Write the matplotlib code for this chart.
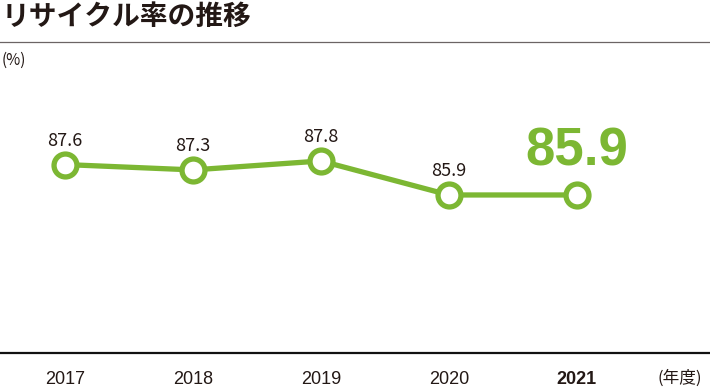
import matplotlib
matplotlib.use("Agg")
import matplotlib.pyplot as plt
from matplotlib.lines import Line2D

plt.rcParams['font.family'] = ['Noto Sans CJK JP', 'DejaVu Sans']

years = ["2017", "2018", "2019", "2020", "2021"]
rates = [87.6, 87.3, 87.8, 85.9, 85.9]

GREEN = "#7cb733"

fig = plt.figure(figsize=(7.1, 3.88), dpi=100)
# axes: x from 0 to 710 px, y from 353 px (bottom) to 45 px (top)
ax = fig.add_axes([0.0, (388 - 353) / 388, 1.0, (353 - 45) / 388])
x = list(range(len(years)))
ax.plot(x, rates, color=GREEN, lw=3.8, marker="o", ms=16.5,
        mfc="white", mec=GREEN, mew=3.8, zorder=3)
ax.set_xlim(-0.508, 5.04)
ax.set_ylim(77.07, 94.28)

for i, v in enumerate(rates[:-1]):
    ax.annotate(f"{v:.1f}", (i, v), xytext=(0, 17), textcoords="offset points",
                ha="center", va="center", fontsize=13, color="#231815")
ax.annotate(f"{rates[-1]:.1f}", (x[-1], rates[-1]), xytext=(0, 31),
            textcoords="offset points", ha="center", va="center",
            fontsize=38, fontweight="bold", color=GREEN,
            family=["Liberation Sans", "DejaVu Sans"])

for s in ["top", "right", "left"]:
    ax.spines[s].set_visible(False)
ax.spines["bottom"].set_color("#111111")
ax.spines["bottom"].set_linewidth(1.6)
ax.set_yticks([])
ax.set_xticks(x)
ax.set_xticklabels(years, fontsize=13, color="#231815",
                   family=["Liberation Sans", "DejaVu Sans"])
ax.tick_params(axis="x", length=0, pad=13)
ax.get_xticklabels()[-1].set_fontweight("bold")

fig.text(680 / 710, 1 - 378 / 388, "(年度)", ha="center", va="center",
         fontsize=12, color="#231815")
fig.text(2 / 710, 1 - 60 / 388, "(%)", ha="left", va="center",
         fontsize=11, color="#231815")
fig.text(2 / 710, 1 - 17 / 388, "リサイクル率の推移", ha="left", va="center",
         fontsize=20, fontweight="bold", color="#231815")
fig.add_artist(Line2D([0, 1], [1 - 42 / 388, 1 - 42 / 388],
                      color="#6b6464", lw=0.9, transform=fig.transFigure))

fig.savefig("out.png", dpi=100)
